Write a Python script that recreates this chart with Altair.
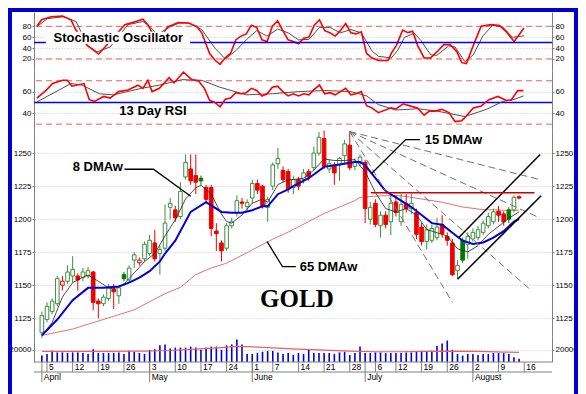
import altair as alt
import pandas as pd
import numpy as np

# ---------------- data ----------------
opens = [1114,1124,1130,1136,1150,1153,1157,1157,1156,1157,1160,1138,1136,1140,1147,1142,1158,1154,1169,1167,
         1170,1174,1182,1174,1178,1209,1207,1202,1232,1238,1233,1231,1224,1224,1191,1182,1178,1195,1205,1213,
         1209.5,1216,1227,1225,1209,1225,1242,1237,1236,1224,1230,1230,1236,1239,1250,1261,1238,1241,1241,1248,
         1256,1240,1243,1243,1200,1212,1195,1203,1198,1213,1198,1212,1208,1205,1194,1183,1184,1186,1196,1187,
         1182,1161,1184,1181,1185,1186,1190,1195,1198,1206,1204,1207,1207,1217]
highs = [1130,1137,1140,1157,1157,1165,1172,1159,1163,1164,1161,1140,1143,1151,1151,1150,1160,1165,1175,1171,
         1183,1188,1192,1180,1211,1216,1210,1228,1249,1249,1249,1233,1226,1226,1197,1184,1197,1201,1218,1216,
         1215,1230,1230,1226,1217,1243,1254,1240,1238,1233,1232,1238,1238,1255,1266,1267,1245,1243,1247,1260,
         1266,1246,1249,1245,1213,1215,1206,1206,1219,1218,1219,1219,1219,1208,1197,1196,1196,1201,1203,1190,
         1185,1169,1186,1190,1193,1195,1199,1205,1208,1210,1206,1209,1218,1218]
lows = [1110,1122,1128,1134,1146,1151,1152,1146,1153,1155,1131,1125,1134,1138,1132,1136,1153,1152,1163,1165,
        1168,1172,1168,1158,1176,1200,1198,1200,1230,1226,1219,1226,1212,1187,1176,1168,1176,1193,1202,1208,
        1207,1212,1219,1208,1198,1222,1238,1228,1220,1219,1222,1227,1229,1237,1248,1238,1235,1226,1229,1242,
        1237,1237,1240,1197,1196,1194,1186,1193,1188,1202,1195,1205,1204,1185,1180,1177,1182,1184,1186,1180,
        1157,1155,1167,1170,1183,1184,1188,1193,1196,1198,1195,1197,1205,1215]
closes = [1127,1134,1138,1155,1153,1160,1162,1154,1160,1161,1137,1136,1141,1148,1145,1148,1155,1163,1173,1169,
          1181,1184,1170,1177,1197,1212,1201,1221,1243,1229,1228,1229,1215,1193,1189,1176,1195,1198,1214,1212,
          1212.5,1227,1222,1210,1215,1241,1246,1230,1223,1230,1225,1235,1232,1250,1262,1240,1242,1235,1246,1257,
          1239,1243,1247,1208,1209,1196,1203,1196,1212,1205,1211,1208,1212,1188.5,1183,1192,1193,1194,1189,1184,
          1158,1165,1169,1187,1190,1192,1197,1202,1205.5,1203,1198,1200,1216.5,1216]
volumes = [10600,13200,18500,15900,15900,14800,15900,15900,14800,13200,21200,14800,14800,14800,14800,15900,13200,18500,16900,14800,
           13200,20100,21200,27500,29100,22200,23800,23800,23800,25400,23800,20100,23800,25400,25400,20100,27500,29100,37000,29100,
           13200,13200,14800,16900,18500,18500,15900,13200,14800,11600,14800,13200,20100,14800,14800,14800,14800,13200,15900,16900,
           11600,14800,25400,14800,14800,15900,15900,14800,14800,14800,14800,15900,15900,16900,18500,16900,18500,26500,30700,35400,
           20100,13200,10600,13200,13200,11600,13200,13200,14800,14800,14800,13200,7900,5300]

vol_ma_x = [0,10,20,25,30,35,38,40,45,50,55,60,65,70,75,79,85,90,93]
vol_ma_v = [17500,17500,18000,19000,21200,23800,25900,25400,23300,21200,19600,18000,16900,16900,17500,18000,17500,16400,15900]

ma8_x = [0,2,4,6,8,9,11,13,14,16,18,20,22,24,26,28,30,31,33,35,36,37,39,41,43,44,46,48,49,51,53,55,57,59,61,63,65,67,69,71,73,75,77,79,81,83,85,87,89,91,93]
ma8_v = [1112,1121.7,1141,1152,1156,1157.7,1153,1148,1147.2,1150.9,1159.4,1167.9,1174,1187.3,1199.5,1215.3,1223.8,1225.7,1218.9,1203.8,
         1198.2,1197,1203.1,1212.1,1215.3,1212.8,1226.2,1229.8,1230,1231,1237.1,1245.6,1244.4,1244.4,1245.1,1235.9,1220.1,1208,1205.5,1208,
         1203.1,1192.2,1189.7,1187.3,1177.6,1175.2,1180,1188.5,1194.6,1200.7,1205.5]
ma15_x = [0,3,6,9,12,15,17,19,21,23,24,26,29,32,33,35,37,39,41,43,44,46,48,49,52,55,58,61,62,63,65,67,69,71,72,74,76,78,80,82,84,86,88,90,92,93]
ma15_v = [1112,1124,1138.7,1148,1148,1149,1152,1155.7,1160.6,1168,1174,1183.7,1205.5,1212.8,1210.4,1205.5,1204.8,1204.8,1206.8,1209.7,
          1209.7,1218.9,1222.5,1225,1231,1239.6,1241.3,1243.2,1243.2,1240.8,1231,1221.3,1216.5,1211.6,1209.2,1203.1,1197,1195.8,1189.7,1183.7,
          1181.2,1182.4,1186.1,1190.9,1198.2,1200]
ma65_x = [0,6,12,18,24,27,30,33,36,39,42,45,48,49,52,55,58,61,62,66,70,74,78,82,86,90,93]
ma65_v = [1112,1116.8,1124.1,1131.4,1143.6,1148.4,1158.1,1163,1166.7,1172.7,1178.8,1184.9,1190.2,1192.2,1198.2,1204.3,1209.2,1214,1216.5,
          1217.7,1217.7,1215.3,1212.8,1209.2,1207.2,1206.8,1206.8]

stoK_x = [0,0.9,2.75,4.9,6.5,7.4,9.6,11.8,12.75,16.8,18.9,20.25,21.2,22.5,24,25,27,29,30.5,31.5,
          33,34,35,36,37,38,39,40,41,42,43,44,45,46,47,48,49,50,51,52,53,54,55,56,57,58,59,60,61,62,63,64,
          65.25,67.1,67.75,68.7,69.9,70.9,71.8,72.75,74,75.25,76.8,77.75,79,80.25,81.2,82.1,83.4,84.9,86.8,88.4,89.6,91.2,93.1]
stoK_v = [80,92,97.5,98.7,92,74,45,29,39,83,89,93,83,60,65,79,87,86,80,68,
          30,18,10,22,30,55,62,66,82,78,55,52,80,90,72,55,52,48,58,60,82,92,72,68,62,72,85,68,66,70,30,22,
          17,17,30.6,45,73,68.4,70.8,45,21.8,21.8,36.4,46.3,46.3,33.4,13.1,11.4,45,80,83,81.3,71.3,52,77]
stoD_x = [0,2,5,7.5,9.6,11.5,14,17.4,20.25,21.5,23,25.3,27.2,29,31.5,34,36,38,40,42,44,46,48,50,52,54,56,58,60,62,64,
          65.25,67.75,69,70.25,72.1,73.4,75.25,76.4,78.7,79.9,81.8,83.4,85.25,87.1,89,90.9,93.1]
stoD_v = [79.5,94,97.5,88.8,45,33,42,83,88.8,80.5,65,78,86,86,74,40,20,35,55,72,62,75,68,55,56,78,78,68,74,68,35,
          24.7,21.8,36.4,59.7,67.3,53.8,27.6,26.5,43.9,42,14.8,27.6,62.6,81.8,78.9,59.7,62.6]

rsi_x = [0,1.8,3,4.9,5.8,6.7,9,10,11,12.75,14,15.6,17.4,19.3,20.25,21.2,22,23.4,25.25,26.2,28,29.6,30.9,
         32,33,34,35,36,37,38,39,40,41,42,43,44,45,46,47,48,49,50,51,52,53,54,55,56,57,58,59,60,61,62,63,64,
         65.25,67.7,68.6,70,71.4,72.75,74,75,76.1,77.4,78.75,79.9,81.2,82.1,83.4,84.9,86.4,88.1,89.6,90.6,91.9,93]
rsi_v = [54,61.4,67.4,70.4,70.4,65,67.4,52.5,51,55.5,54,60,61.4,65.9,63,70.4,60,63,72.8,68,77.9,71,69.8,
         63,52,50,46,53,54,59,58,59,63,61,56,58,64,65,60,56,58,56,58,57,62,66,58,59,57,60,63,57,58,60,47,45,
         40.6,45,44,48.7,46.6,45,38.2,42,42,43.6,40.6,32.3,33.2,37.7,45,46.6,52.5,55.5,52,52,60.9,60.9]
rsis_x = [0,6.5,8.6,12,14.6,20,23.4,27.75,31.5,35,40,45,50,55,60,63,65.25,68.6,72.75,76.5,81.8,85.9,89.1,91,93]
rsis_v = [50.5,67.4,66,57.9,57,63,66,71,70.4,64,57,58,60,61,60,56,48,43,44.2,42,37,43.6,51,52.5,56]

tick_idx = [1,6,11,16,21,26,31,36,41,45,50,55,60,65,69,74,79,84,89,94]
tick_lbl = ["5","12","19","26","3","10","17","24","1","7","14","21","28","6","12","19","26","2","9","16"]
month_idx = [0,21,41,63,84]
month_lbl = ["April","May","June","July","August"]

fan_g = ["A","A","B","B","C","C","D","D"]
fan_x = [60,80,60,95.1,60,97,60,97]
fan_p = [1266.3,1137,1266.3,1147,1266.3,1201,1266.3,1230]
chan_g = ["U","U","L","L"]
chan_x = [81.2,97.1,81,97.3]
chan_p = [1185.9,1249,1154.5,1217.7]
res_x = [64.1,96]
res_p = [1220,1220]

lead_g = ["a","a","a","b","b","b","c","c","c"]
lead_x = [16.1,21.75,29.0,73.7,70.9,64.3,43.9,46.9,49.5]
lead_p = [1237.8,1237.8,1217.4,1260.2,1260.2,1234.7,1183,1164,1164]
lbl_txt = ["8 DMAw","15 DMAw","65 DMAw"]
lbl_x = [6.0,74.6,50.25]
lbl_p = [1239.3,1260.2,1164]

# ---------------- layout ----------------
W = 518
H_STO, H_RSI, H_PRC, H_VOL = 58, 60, 207, 25
XDOM = [-0.56, 98.44]
STO_DOM = [-0.4, 106.3]
RSI_DOM = [24.6, 79.9]
PRC_DOM = [1110.8, 1267.5]
VOL_DOM = [0, 41300]

FRAME = "#0000c8"
RED = "#ff0000"
GRAY = "#505050"
BLUE = "#0000ff"
DASHRED = "#f06060"
GREEN = "#3f8f3f"
DKGREEN = "#007a00"
CRED = "#ee0000"
AXC = "#808080"

xscale = alt.Scale(domain=XDOM, nice=False, zero=False)
grid_x = alt.Axis(values=tick_idx, grid=True, labels=False, ticks=False, domain=False, title=None)


def X(field="i", axis=None):
    return alt.X(f"{field}:Q", scale=xscale, axis=axis)


def Y(field, dom, axis=None):
    return alt.Y(f"{field}:Q", scale=alt.Scale(domain=dom, nice=False, zero=False), axis=axis)


def laxis(vals):
    return alt.Axis(values=vals, format="d", grid=True, tickSize=2, labelPadding=1, title=None, labelOverlap=False)


def raxis(vals):
    return alt.Axis(values=vals, format="d", orient="right", grid=False, tickSize=2, labelPadding=1,
                    title=None, labelOverlap=False)


# ---------------- stochastic panel ----------------
sto_k = pd.DataFrame({"i": stoK_x, "v": stoK_v})
sto_d = pd.DataFrame({"i": stoD_x, "v": stoD_v})
sto_lines = pd.DataFrame({"v": [20, 80]})
mid = pd.DataFrame({"v": [50]})
sto_box = pd.DataFrame({"i": [1.7], "i2": [29.25], "v": [47.5], "v2": [70]})
sto_txt = pd.DataFrame({"i": [3.19], "v": [59], "t": ["Stochastic Oscillator"]})

sto = alt.layer(
    alt.Chart(sto_lines).mark_rule(color=DASHRED, strokeDash=[6, 4], strokeWidth=1).encode(
        y=Y("v", STO_DOM, laxis([20, 40, 60, 80]))),
    alt.Chart(sto_d).mark_line(color=GRAY, strokeWidth=1).encode(x=X("i", grid_x), y=Y("v", STO_DOM)),
    alt.Chart(sto_k).mark_line(color=RED, strokeWidth=1.6).encode(x=X(), y=Y("v", STO_DOM)),
    alt.Chart(mid).mark_rule(color=BLUE, strokeWidth=1.5).encode(y=Y("v", STO_DOM, raxis([20, 40, 60, 80]))),
    alt.Chart(sto_box).mark_rect(color="white").encode(x=X("i"), x2="i2", y=Y("v", STO_DOM), y2="v2"),
    alt.Chart(sto_txt).mark_text(align="left", baseline="middle", fontSize=13, fontWeight="bold",
                                 font="Liberation Sans", color="black").encode(
        x=X(), y=Y("v", STO_DOM), text="t:N"),
).resolve_scale(y="independent").properties(width=W, height=H_STO)

# ---------------- RSI panel ----------------
rsi_a = pd.DataFrame({"i": rsi_x, "v": rsi_v})
rsi_b = pd.DataFrame({"i": rsis_x, "v": rsis_v})
rsi_lines = pd.DataFrame({"v": [30, 70]})
rsi_txt = pd.DataFrame({"i": [15.75], "v": [42.4], "t": ["13 Day RSI"]})

rsi = alt.layer(
    alt.Chart(rsi_lines).mark_rule(color=DASHRED, strokeDash=[6, 4], strokeWidth=1).encode(
        y=Y("v", RSI_DOM, laxis([40, 60]))),
    alt.Chart(mid).mark_rule(color=BLUE, strokeWidth=1.5).encode(y=Y("v", RSI_DOM, raxis([40, 60]))),
    alt.Chart(rsi_b).mark_line(color=GRAY, strokeWidth=1).encode(x=X("i", grid_x), y=Y("v", RSI_DOM)),
    alt.Chart(rsi_a).mark_line(color=RED, strokeWidth=1.6).encode(x=X(), y=Y("v", RSI_DOM)),
    alt.Chart(rsi_txt).mark_text(align="left", baseline="middle", fontSize=13, fontWeight="bold",
                                 font="Liberation Sans", color="black").encode(
        x=X(), y=Y("v", RSI_DOM), text="t:N"),
).resolve_scale(y="independent").properties(width=W, height=H_RSI)

# ---------------- price panel ----------------
df = pd.DataFrame({"i": list(range(len(closes))), "o": opens, "h": highs, "l": lows, "c": closes, "vol": volumes})
prev = df["c"].shift(1).fillna(df["c"].iloc[0] - 1)
gain = (df["c"] >= prev).tolist()
up = (df["c"] >= df["o"]).tolist()
strokes, fills = [], []
for g, u in zip(gain, up):
    if g:
        strokes.append(GREEN if u else DKGREEN)
        fills.append("white" if u else DKGREEN)
    else:
        strokes.append(CRED)
        fills.append("white" if u else CRED)
df["stroke"] = strokes
df["fill"] = fills
df["lo"] = df[["o", "c"]].min(axis=1)
df["hi"] = np.maximum(df[["o", "c"]].max(axis=1), df["lo"] + 0.9)

ma8 = pd.DataFrame({"i": ma8_x, "p": ma8_v})
ma15 = pd.DataFrame({"i": ma15_x, "p": ma15_v})
ma65 = pd.DataFrame({"i": ma65_x, "p": ma65_v})
fan = pd.DataFrame({"g": fan_g, "i": fan_x, "p": fan_p})
chan = pd.DataFrame({"g": chan_g, "i": chan_x, "p": chan_p})
res = pd.DataFrame({"i": res_x, "p": res_p})
lead = pd.DataFrame({"g": lead_g, "i": lead_x, "p": lead_p})
lbls = pd.DataFrame({"t": lbl_txt, "i": lbl_x, "p": lbl_p})
gold = pd.DataFrame({"t": ["GOLD"], "i": [49.7], "p": [1139.2]})

price_vals = [1125, 1150, 1175, 1200, 1225, 1250]
price = alt.layer(
    alt.Chart(ma65).mark_line(color="#e87070", strokeWidth=1).encode(
        x=X("i", grid_x), y=Y("p", PRC_DOM, laxis(price_vals))),
    alt.Chart(df).mark_rule(strokeWidth=1).encode(
        x=X(), y=Y("l", PRC_DOM), y2="h", color=alt.Color("stroke:N", scale=None)),
    alt.Chart(df).mark_bar(size=3.6, strokeWidth=1).encode(
        x=X(), y=Y("lo", PRC_DOM), y2="hi",
        fill=alt.Fill("fill:N", scale=None), stroke=alt.Stroke("stroke:N", scale=None)),
    alt.Chart(ma8).mark_line(color="#222222", strokeWidth=0.8).encode(x=X(), y=Y("p", PRC_DOM)),
    alt.Chart(ma15).mark_line(color="#0000dd", strokeWidth=2).encode(x=X(), y=Y("p", PRC_DOM)),
    alt.Chart(fan).mark_line(color="#707070", strokeWidth=1, strokeDash=[7, 4]).encode(
        x=X(), y=Y("p", PRC_DOM), detail="g:N"),
    alt.Chart(chan).mark_line(color="black", strokeWidth=1.5).encode(x=X(), y=Y("p", PRC_DOM), detail="g:N"),
    alt.Chart(res).mark_line(color="#cc0000", strokeWidth=1.6).encode(
        x=X(), y=Y("p", PRC_DOM, raxis(price_vals))),
    alt.Chart(lead).mark_line(color="black", strokeWidth=1.3).encode(x=X(), y=Y("p", PRC_DOM), detail="g:N"),
    alt.Chart(lbls).mark_text(align="left", baseline="middle", fontSize=13, fontWeight="bold",
                              font="Liberation Sans", color="black").encode(
        x=X(), y=Y("p", PRC_DOM), text="t:N"),
    alt.Chart(gold).mark_text(align="center", baseline="middle", fontSize=25, fontWeight="bold",
                              font="Liberation Serif", color="black").encode(
        x=X(), y=Y("p", PRC_DOM), text="t:N"),
).resolve_scale(y="independent").properties(width=W, height=H_PRC)

# ---------------- volume panel + x axis ----------------
vma = pd.DataFrame({"i": vol_ma_x, "v": vol_ma_v})
months = pd.DataFrame({"i": month_idx, "t": month_lbl})
days = pd.DataFrame({"i": tick_idx, "t": tick_lbl})
one = pd.DataFrame({"a": [0]})
top_off = H_STO + H_RSI + H_PRC

vol = alt.layer(
    alt.Chart(df).mark_bar(size=1.6, color="#0000dd").encode(
        x=X("i", grid_x), y=Y("vol", VOL_DOM, laxis([20000]))),
    alt.Chart(vma).mark_line(color="#e86060", strokeWidth=1.2).encode(
        x=X(), y=Y("v", VOL_DOM, raxis([20000]))),
    # axis line, day ticks and day labels
    alt.Chart(one).mark_rule(color=AXC, strokeWidth=1).encode(
        x=alt.value(0), x2=alt.value(W), y=alt.value(H_VOL)),
    alt.Chart(days).mark_rule(color=AXC, strokeWidth=1).encode(
        x=X(), y=alt.value(H_VOL), y2=alt.value(H_VOL + 10)),
    alt.Chart(days).mark_text(align="left", baseline="top", dx=2, fontSize=8.5,
                              font="Liberation Sans", color="black").encode(
        x=X(), y=alt.value(H_VOL + 1), text="t:N"),
    # month row
    alt.Chart(months).mark_rule(color=AXC, strokeWidth=1).encode(
        x=X(), y=alt.value(H_VOL), y2=alt.value(H_VOL + 20)),
    alt.Chart(one).mark_rule(color=AXC, strokeWidth=1).encode(
        x=alt.value(0), x2=alt.value(W), y=alt.value(H_VOL + 10)),
    alt.Chart(months).mark_text(align="left", baseline="top", dx=2, fontSize=8.5,
                                font="Liberation Sans", color="black").encode(
        x=X(), y=alt.value(H_VOL + 11), text="t:N"),
    # outer frame
    alt.Chart(one).mark_rect(filled=False, stroke=FRAME, strokeWidth=4).encode(
        x=alt.value(-24), x2=alt.value(W + 24), y=alt.value(-top_off - 2), y2=alt.value(H_VOL + 45)),
).resolve_scale(y="independent").properties(width=W, height=H_VOL)

chart = alt.vconcat(sto, rsi, price, vol, spacing=0, bounds="flush").properties(
    padding=0
).configure(background="white").configure_view(stroke=None).configure_axis(
    labelFont="Liberation Sans", labelFontSize=8, labelColor="black",
    domainColor=AXC, tickColor=AXC, gridColor="#c4c4c4", gridDash=[1, 2]
)

chart.save("out.html", embed_options={"renderer": "svg", "actions": False})
